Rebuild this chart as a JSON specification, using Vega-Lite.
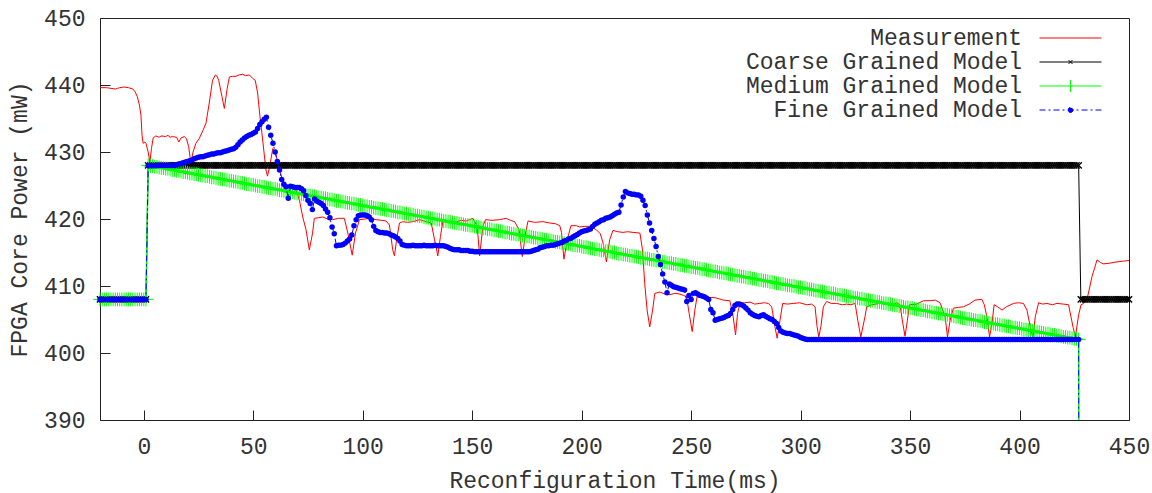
{
"$schema":"https://vega.github.io/schema/vega-lite/v6.json",
"width":1029,"height":402,
"autosize":{"type":"none"},
"padding":{"left":100,"top":18,"right":23,"bottom":73},
"background":"white",
"config":{
 "view":{"stroke":"#222","strokeWidth":1},
 "axis":{"labelFont":"Liberation Mono","labelFontSize":23,"labelColor":"#333","titleFont":"Liberation Mono","titleFontSize":23,"titleColor":"#333","titleFontWeight":"normal","tickColor":"#222","tickWidth":1,"domain":false,"grid":false,"tickSize":-10,"labelFlush":false}
},
"layer":[
{
 "data":{"values":"x,y\n-20,439.6\n-17,439.6\n-15,439.5\n-13,439.4\n-12,439.5\n-11,439.6\n-9,439.7\n-7,439.6\n-5,439.4\n-4,439.0\n-3,438.3\n-2,437.0\n-1.3,435.5\n-0.8,432.5\n-0.3,431.3\n0.5,431.5\n1,431.3\n2,430.0\n2.8,428.4\n3.5,430.5\n4.3,432.1\n5.5,432.4\n7,432.2\n8,432.4\n10,432.3\n11,432.5\n12,432.2\n13,432.3\n15,432.2\n16,431.5\n17,432.1\n18.5,432.3\n19.5,432.0\n20.5,430.8\n21.5,428.3\n22.5,430.0\n23.8,431.3\n25.3,432.0\n27,433.2\n28.4,434.3\n29.9,437.3\n31.4,440.7\n32.7,441.5\n33.5,441.3\n34.2,440.7\n35.7,438.3\n36.8,436.5\n38,439.3\n39.1,441.2\n40.5,441.3\n42.1,441.3\n43.5,441.5\n45.1,441.6\n46.5,441.4\n48.2,441.5\n49.7,441.0\n50.9,440.7\n52,438.8\n53,435.5\n54.3,431.8\n55.8,427.3\n56.5,426.4\n57.5,427.8\n58.9,430.5\n60.1,430.0\n61.6,427.8\n63.2,426.0\n65,424.9\n67,424.6\n69.6,424.3\n71.1,422.8\n72.6,420.3\n74.1,418.4\n75.6,415.4\n77.1,417.9\n77.9,420.1\n80,420.2\n81.7,420.3\n84,420.0\n86.3,419.9\n89,420.1\n91.6,420.1\n93.2,417.9\n95.2,414.6\n96.7,417.9\n98.5,419.9\n101,420.0\n103.1,420.1\n106.1,419.9\n108.5,419.8\n110.7,419.7\n112.2,419.1\n113.7,415.4\n114.5,414.5\n115.6,417.2\n116.8,419.4\n118.3,419.6\n120.5,419.5\n122.9,419.6\n125.9,419.9\n129,419.6\n131.3,419.4\n132.8,416.9\n134.3,414.5\n135.5,417.4\n136.6,419.6\n139.5,419.5\n142.7,419.6\n145,419.8\n147.3,419.7\n150.3,420.1\n152.3,418.9\n153.4,414.5\n154.9,418.9\n156.1,419.9\n159,419.8\n162.5,419.9\n165.6,420.1\n167.5,419.8\n169.4,419.6\n171.4,418.4\n172.9,414.4\n174.4,417.9\n175.5,419.7\n178.5,419.5\n182.3,419.6\n185.4,419.4\n188,419.3\n190,419.0\n190.8,418.0\n191.9,414.0\n193.5,417.0\n195.1,419.0\n197.6,419.0\n199.1,418.8\n201.5,418.9\n203.7,418.9\n206.7,418.4\n208.5,417.8\n209.8,416.4\n211.3,413.6\n212.8,416.9\n214.3,418.3\n216.5,418.1\n218.9,418.0\n221,418.1\n223.5,418.0\n226.6,417.9\n227.8,415.4\n228.8,410.4\n229.9,406.4\n231.1,403.9\n232.4,406.4\n233.4,408.9\n235.7,409.1\n238,408.8\n240.3,408.7\n242.5,408.9\n244.8,408.8\n246.5,408.6\n247.9,408.4\n249.1,405.9\n250.5,403.2\n251.7,406.4\n252.7,408.4\n255,408.3\n257.1,408.2\n259.5,408.3\n261.6,408.2\n264.6,407.9\n267.7,407.8\n269.2,405.4\n270.3,402.7\n271.2,405.9\n272.3,407.4\n274.5,407.5\n276.9,407.6\n279,407.3\n281.4,407.4\n283.5,407.5\n285.2,407.4\n286.8,406.9\n288.3,403.9\n289.3,402.2\n290.6,404.9\n291.8,407.4\n294,407.3\n296.7,407.4\n299.5,407.5\n302.8,407.2\n305,407.3\n306.6,406.9\n307.5,404.0\n308.3,402.4\n309.3,404.0\n310.4,406.9\n311.9,407.7\n314,407.4\n316.5,407.4\n319,407.2\n321.1,407.3\n323,407.2\n324.9,407.4\n326.1,404.9\n327.5,402.4\n329.4,405.4\n330.2,406.9\n332.5,407.2\n336,407.4\n339.4,407.3\n341.5,407.1\n343.9,407.5\n345.4,407.2\n346.7,404.4\n347.7,402.5\n348.8,404.9\n349.7,407.2\n353.1,407.3\n356.1,407.8\n359.2,407.8\n361.5,407.9\n363.7,407.5\n366,405.4\n367.1,402.4\n368.3,404.9\n369.8,406.7\n372,406.8\n374.4,406.9\n377,407.3\n379.7,407.9\n382.8,408.0\n383.9,407.2\n385.1,405.4\n386.3,402.4\n387.4,404.4\n388.4,407.2\n390,406.9\n392,406.4\n394,406.9\n397.3,407.4\n399.5,407.5\n401.8,407.4\n403.4,406.4\n404.9,403.9\n406.1,402.3\n407.2,405.4\n408.7,407.5\n410.5,407.3\n412.5,407.4\n415,407.2\n417.1,407.4\n420,407.3\n422.4,407.2\n423.5,405.4\n424.5,403.8\n425.5,402.4\n427,405.7\n428.1,407.2\n429.3,407.4\n431.1,408.4\n433.1,411.4\n435.4,413.9\n437,413.5\n438.4,413.3\n441,413.4\n444.5,413.6\n447,413.7\n450,413.8","format":{"type":"csv","parse":{"x":"number","y":"number"}}},
 "mark":{"type":"line","strokeWidth":1},
 "encoding":{
  "x":{"field":"x","type":"quantitative","scale":{"domain":[-20,450],"nice":false,"zero":false},"axis":{"orient":"bottom","values":[0,50,100,150,200,250,300,350,400,450],"format":"d","labelPadding":25,"title":"Reconfiguration Time(ms)","titlePadding":11}},
  "y":{"field":"y","type":"quantitative","scale":{"domain":[390,450],"nice":false,"zero":false},"axis":{"orient":"left","values":[390,400,410,420,430,440,450],"format":"d","labelPadding":25,"title":"FPGA Core Power (mW)","titlePadding":12}},
  "color":{"datum":"Measurement","type":"nominal","scale":{"domain":["Measurement","Coarse Grained Model","Medium Grained Model","Fine Grained Model"],"range":["#ff0000","#000000","#00ff00","#0000ff"]},
   "legend":{"orient":"none","legendX":959,"legendY":8.5,"title":null,"padding":0,"labelFont":"Liberation Mono","labelFontSize":23,"labelColor":"#333","labelAlign":"right","labelOffset":-60,"labelLimit":500,"rowPadding":-0.8,"symbolSize":100,"symbolStrokeWidth":1,
    "encode":{"symbols":{"update":{
     "shape":{"signal":"datum.value === 'Measurement' ? 'M-6.2,0H6.2' : datum.value === 'Coarse Grained Model' ? 'M-6.2,0H6.2M-0.4,-0.4L0.4,0.4M-0.4,0.4L0.4,-0.4' : datum.value === 'Medium Grained Model' ? 'M-6.2,0H6.2M0,-1.2V1.2' : 'M-6.2,0H6.2M0.5,0A0.5,0.5,0,1,1,-0.5,0A0.5,0.5,0,1,1,0.5,0'"},
     "strokeDash":{"signal":"datum.value === 'Fine Grained Model' ? [6,3,2,3] : []"},
     "fill":{"signal":"datum.value === 'Fine Grained Model' ? '#0000ff' : 'transparent'"},
     "stroke":{"scale":"color","field":"value"},
     "strokeWidth":{"value":1},
     "opacity":{"value":1}
    }}}}}
 }
},
{
 "data":{"values":"x,y\n-20,408\n-19,408\n-18,408\n-17,408\n-16,408\n-15,408\n-14,408\n-13,408\n-12,408\n-11,408\n-10,408\n-9,408\n-8,408\n-7,408\n-6,408\n-5,408\n-4,408\n-3,408\n-2,408\n-1,408\n0,408\n1,408\n2,428\n3,428\n4,428\n5,428\n6,428\n7,428\n8,428\n9,428\n10,428\n11,428\n12,428\n13,428\n14,428\n15,428\n16,428\n17,428\n18,428\n19,428\n20,428\n21,428\n22,428\n23,428\n24,428\n25,428\n26,428\n27,428\n28,428\n29,428\n30,428\n31,428\n32,428\n33,428\n34,428\n35,428\n36,428\n37,428\n38,428\n39,428\n40,428\n41,428\n42,428\n43,428\n44,428\n45,428\n46,428\n47,428\n48,428\n49,428\n50,428\n51,428\n52,428\n53,428\n54,428\n55,428\n56,428\n57,428\n58,428\n59,428\n60,428\n61,428\n62,428\n63,428\n64,428\n65,428\n66,428\n67,428\n68,428\n69,428\n70,428\n71,428\n72,428\n73,428\n74,428\n75,428\n76,428\n77,428\n78,428\n79,428\n80,428\n81,428\n82,428\n83,428\n84,428\n85,428\n86,428\n87,428\n88,428\n89,428\n90,428\n91,428\n92,428\n93,428\n94,428\n95,428\n96,428\n97,428\n98,428\n99,428\n100,428\n101,428\n102,428\n103,428\n104,428\n105,428\n106,428\n107,428\n108,428\n109,428\n110,428\n111,428\n112,428\n113,428\n114,428\n115,428\n116,428\n117,428\n118,428\n119,428\n120,428\n121,428\n122,428\n123,428\n124,428\n125,428\n126,428\n127,428\n128,428\n129,428\n130,428\n131,428\n132,428\n133,428\n134,428\n135,428\n136,428\n137,428\n138,428\n139,428\n140,428\n141,428\n142,428\n143,428\n144,428\n145,428\n146,428\n147,428\n148,428\n149,428\n150,428\n151,428\n152,428\n153,428\n154,428\n155,428\n156,428\n157,428\n158,428\n159,428\n160,428\n161,428\n162,428\n163,428\n164,428\n165,428\n166,428\n167,428\n168,428\n169,428\n170,428\n171,428\n172,428\n173,428\n174,428\n175,428\n176,428\n177,428\n178,428\n179,428\n180,428\n181,428\n182,428\n183,428\n184,428\n185,428\n186,428\n187,428\n188,428\n189,428\n190,428\n191,428\n192,428\n193,428\n194,428\n195,428\n196,428\n197,428\n198,428\n199,428\n200,428\n201,428\n202,428\n203,428\n204,428\n205,428\n206,428\n207,428\n208,428\n209,428\n210,428\n211,428\n212,428\n213,428\n214,428\n215,428\n216,428\n217,428\n218,428\n219,428\n220,428\n221,428\n222,428\n223,428\n224,428\n225,428\n226,428\n227,428\n228,428\n229,428\n230,428\n231,428\n232,428\n233,428\n234,428\n235,428\n236,428\n237,428\n238,428\n239,428\n240,428\n241,428\n242,428\n243,428\n244,428\n245,428\n246,428\n247,428\n248,428\n249,428\n250,428\n251,428\n252,428\n253,428\n254,428\n255,428\n256,428\n257,428\n258,428\n259,428\n260,428\n261,428\n262,428\n263,428\n264,428\n265,428\n266,428\n267,428\n268,428\n269,428\n270,428\n271,428\n272,428\n273,428\n274,428\n275,428\n276,428\n277,428\n278,428\n279,428\n280,428\n281,428\n282,428\n283,428\n284,428\n285,428\n286,428\n287,428\n288,428\n289,428\n290,428\n291,428\n292,428\n293,428\n294,428\n295,428\n296,428\n297,428\n298,428\n299,428\n300,428\n301,428\n302,428\n303,428\n304,428\n305,428\n306,428\n307,428\n308,428\n309,428\n310,428\n311,428\n312,428\n313,428\n314,428\n315,428\n316,428\n317,428\n318,428\n319,428\n320,428\n321,428\n322,428\n323,428\n324,428\n325,428\n326,428\n327,428\n328,428\n329,428\n330,428\n331,428\n332,428\n333,428\n334,428\n335,428\n336,428\n337,428\n338,428\n339,428\n340,428\n341,428\n342,428\n343,428\n344,428\n345,428\n346,428\n347,428\n348,428\n349,428\n350,428\n351,428\n352,428\n353,428\n354,428\n355,428\n356,428\n357,428\n358,428\n359,428\n360,428\n361,428\n362,428\n363,428\n364,428\n365,428\n366,428\n367,428\n368,428\n369,428\n370,428\n371,428\n372,428\n373,428\n374,428\n375,428\n376,428\n377,428\n378,428\n379,428\n380,428\n381,428\n382,428\n383,428\n384,428\n385,428\n386,428\n387,428\n388,428\n389,428\n390,428\n391,428\n392,428\n393,428\n394,428\n395,428\n396,428\n397,428\n398,428\n399,428\n400,428\n401,428\n402,428\n403,428\n404,428\n405,428\n406,428\n407,428\n408,428\n409,428\n410,428\n411,428\n412,428\n413,428\n414,428\n415,428\n416,428\n417,428\n418,428\n419,428\n420,428\n421,428\n422,428\n423,428\n424,428\n425,428\n426,428\n427,428\n428,408\n429,408\n430,408\n431,408\n432,408\n433,408\n434,408\n435,408\n436,408\n437,408\n438,408\n439,408\n440,408\n441,408\n442,408\n443,408\n444,408\n445,408\n446,408\n447,408\n448,408\n449,408\n450,408","format":{"type":"csv","parse":{"x":"number","y":"number"}}},
 "layer":[
  {"mark":{"type":"line","strokeWidth":1},
   "encoding":{
    "x":{"field":"x","type":"quantitative","axis":{"orient":"top","values":[0,50,100,150,200,250,300,350,400,450],"labels":false,"title":null}},
    "y":{"field":"y","type":"quantitative","axis":{"orient":"right","values":[390,400,410,420,430,440,450],"labels":false,"title":null}},
    "color":{"datum":"Coarse Grained Model","type":"nominal"}}},
  {"mark":{"type":"point","shape":"M-1,-1L1,1M-1,1L1,-1","size":40,"filled":false,"strokeWidth":1.3,"opacity":1},
   "encoding":{
    "x":{"field":"x","type":"quantitative","axis":null},
    "y":{"field":"y","type":"quantitative","axis":null},
    "color":{"datum":"Coarse Grained Model","type":"nominal"}}}
 ]
},
{
 "data":{"values":"x,y\n-20,408\n-19,408\n-18,408\n-17,408\n-16,408\n-15,408\n-14,408\n-13,408\n-12,408\n-11,408\n-10,408\n-9,408\n-8,408\n-7,408\n-6,408\n-5,408\n-4,408\n-3,408\n-2,408\n-1,408\n0,408\n1,408\n2,428.0\n3,427.9\n4,427.9\n5,427.8\n6,427.8\n7,427.7\n8,427.6\n9,427.6\n10,427.5\n11,427.5\n12,427.4\n13,427.3\n14,427.3\n15,427.2\n16,427.2\n17,427.1\n18,427.0\n19,427.0\n20,426.9\n21,426.8\n22,426.8\n23,426.7\n24,426.7\n25,426.6\n26,426.5\n27,426.5\n28,426.4\n29,426.4\n30,426.3\n31,426.2\n32,426.2\n33,426.1\n34,426.0\n35,426.0\n36,425.9\n37,425.9\n38,425.8\n39,425.7\n40,425.7\n41,425.6\n42,425.6\n43,425.5\n44,425.4\n45,425.4\n46,425.3\n47,425.2\n48,425.2\n49,425.1\n50,425.1\n51,425.0\n52,424.9\n53,424.9\n54,424.8\n55,424.8\n56,424.7\n57,424.6\n58,424.6\n59,424.5\n60,424.5\n61,424.4\n62,424.3\n63,424.3\n64,424.2\n65,424.2\n66,424.1\n67,424.0\n68,424.0\n69,423.9\n70,423.8\n71,423.8\n72,423.7\n73,423.7\n74,423.6\n75,423.5\n76,423.5\n77,423.4\n78,423.4\n79,423.3\n80,423.2\n81,423.2\n82,423.1\n83,423.1\n84,423.0\n85,422.9\n86,422.9\n87,422.8\n88,422.7\n89,422.7\n90,422.6\n91,422.6\n92,422.5\n93,422.4\n94,422.4\n95,422.3\n96,422.3\n97,422.2\n98,422.1\n99,422.1\n100,422.0\n101,421.9\n102,421.9\n103,421.8\n104,421.8\n105,421.7\n106,421.6\n107,421.6\n108,421.5\n109,421.5\n110,421.4\n111,421.3\n112,421.3\n113,421.2\n114,421.2\n115,421.1\n116,421.0\n117,421.0\n118,420.9\n119,420.8\n120,420.8\n121,420.7\n122,420.7\n123,420.6\n124,420.5\n125,420.5\n126,420.4\n127,420.4\n128,420.3\n129,420.2\n130,420.2\n131,420.1\n132,420.1\n133,420.0\n134,419.9\n135,419.9\n136,419.8\n137,419.7\n138,419.7\n139,419.6\n140,419.6\n141,419.5\n142,419.4\n143,419.4\n144,419.3\n145,419.3\n146,419.2\n147,419.1\n148,419.1\n149,419.0\n150,419.0\n151,418.9\n152,418.8\n153,418.8\n154,418.7\n155,418.6\n156,418.6\n157,418.5\n158,418.5\n159,418.4\n160,418.3\n161,418.3\n162,418.2\n163,418.2\n164,418.1\n165,418.0\n166,418.0\n167,417.9\n168,417.8\n169,417.8\n170,417.7\n171,417.7\n172,417.6\n173,417.5\n174,417.5\n175,417.4\n176,417.4\n177,417.3\n178,417.2\n179,417.2\n180,417.1\n181,417.1\n182,417.0\n183,416.9\n184,416.9\n185,416.8\n186,416.8\n187,416.7\n188,416.6\n189,416.6\n190,416.5\n191,416.4\n192,416.4\n193,416.3\n194,416.3\n195,416.2\n196,416.1\n197,416.1\n198,416.0\n199,416.0\n200,415.9\n201,415.8\n202,415.8\n203,415.7\n204,415.6\n205,415.6\n206,415.5\n207,415.5\n208,415.4\n209,415.3\n210,415.3\n211,415.2\n212,415.2\n213,415.1\n214,415.0\n215,415.0\n216,414.9\n217,414.8\n218,414.8\n219,414.7\n220,414.7\n221,414.6\n222,414.5\n223,414.5\n224,414.4\n225,414.4\n226,414.3\n227,414.2\n228,414.2\n229,414.1\n230,414.1\n231,414.0\n232,413.9\n233,413.9\n234,413.8\n235,413.8\n236,413.7\n237,413.6\n238,413.6\n239,413.5\n240,413.4\n241,413.4\n242,413.3\n243,413.3\n244,413.2\n245,413.1\n246,413.1\n247,413.0\n248,413.0\n249,412.9\n250,412.8\n251,412.8\n252,412.7\n253,412.7\n254,412.6\n255,412.5\n256,412.5\n257,412.4\n258,412.3\n259,412.3\n260,412.2\n261,412.2\n262,412.1\n263,412.0\n264,412.0\n265,411.9\n266,411.9\n267,411.8\n268,411.7\n269,411.7\n270,411.6\n271,411.5\n272,411.5\n273,411.4\n274,411.4\n275,411.3\n276,411.2\n277,411.2\n278,411.1\n279,411.1\n280,411.0\n281,410.9\n282,410.9\n283,410.8\n284,410.8\n285,410.7\n286,410.6\n287,410.6\n288,410.5\n289,410.4\n290,410.4\n291,410.3\n292,410.3\n293,410.2\n294,410.1\n295,410.1\n296,410.0\n297,410.0\n298,409.9\n299,409.8\n300,409.8\n301,409.7\n302,409.7\n303,409.6\n304,409.5\n305,409.5\n306,409.4\n307,409.3\n308,409.3\n309,409.2\n310,409.2\n311,409.1\n312,409.0\n313,409.0\n314,408.9\n315,408.9\n316,408.8\n317,408.7\n318,408.7\n319,408.6\n320,408.6\n321,408.5\n322,408.4\n323,408.4\n324,408.3\n325,408.2\n326,408.2\n327,408.1\n328,408.1\n329,408.0\n330,407.9\n331,407.9\n332,407.8\n333,407.8\n334,407.7\n335,407.6\n336,407.6\n337,407.5\n338,407.4\n339,407.4\n340,407.3\n341,407.3\n342,407.2\n343,407.1\n344,407.1\n345,407.0\n346,407.0\n347,406.9\n348,406.8\n349,406.8\n350,406.7\n351,406.7\n352,406.6\n353,406.5\n354,406.5\n355,406.4\n356,406.4\n357,406.3\n358,406.2\n359,406.2\n360,406.1\n361,406.0\n362,406.0\n363,405.9\n364,405.9\n365,405.8\n366,405.7\n367,405.7\n368,405.6\n369,405.6\n370,405.5\n371,405.4\n372,405.4\n373,405.3\n374,405.2\n375,405.2\n376,405.1\n377,405.1\n378,405.0\n379,404.9\n380,404.9\n381,404.8\n382,404.8\n383,404.7\n384,404.6\n385,404.6\n386,404.5\n387,404.4\n388,404.4\n389,404.3\n390,404.3\n391,404.2\n392,404.1\n393,404.1\n394,404.0\n395,404.0\n396,403.9\n397,403.8\n398,403.8\n399,403.7\n400,403.7\n401,403.6\n402,403.5\n403,403.5\n404,403.4\n405,403.4\n406,403.3\n407,403.2\n408,403.2\n409,403.1\n410,403.0\n411,403.0\n412,402.9\n413,402.9\n414,402.8\n415,402.7\n416,402.7\n417,402.6\n418,402.6\n419,402.5\n420,402.4\n421,402.4\n422,402.3\n423,402.3\n424,402.2\n425,402.1\n426,402.1\n427,402.0\n427.4,300","format":{"type":"csv","parse":{"x":"number","y":"number"}}},
 "layer":[
  {"mark":{"type":"line","strokeWidth":1.5,"clip":true},
   "encoding":{
    "x":{"field":"x","type":"quantitative","axis":null},
    "y":{"field":"y","type":"quantitative","axis":null},
    "color":{"datum":"Medium Grained Model","type":"nominal"}}},
  {"transform":[{"filter":"datum.y >= 390"}],
   "mark":{"type":"point","shape":"M-1,0H1M0,-1V1","size":190,"filled":false,"strokeWidth":1,"opacity":1},
   "encoding":{
    "x":{"field":"x","type":"quantitative","axis":null},
    "y":{"field":"y","type":"quantitative","axis":null},
    "color":{"datum":"Medium Grained Model","type":"nominal"}}}
 ]
},
{
 "data":{"values":"x,y\n-20,408\n-19,408\n-18,408\n-17,408\n-16,408\n-15,408\n-14,408\n-13,408\n-12,408\n-11,408\n-10,408\n-9,408\n-8,408\n-7,408\n-6,408\n-5,408\n-4,408\n-3,408\n-2,408\n-1,408\n0,408\n1,408\n2,428\n3,428\n4,428\n5,428\n6,428\n7,428\n8,428\n9,428\n10,428\n11,428\n12,428\n13,428\n14,428.0\n15,428.1\n16,428.2\n17,428.3\n18,428.4\n19,428.5\n20,428.6\n21,428.7\n22,428.8\n23,429.0\n24,429.1\n25,429.2\n26,429.3\n27,429.3\n28,429.4\n29,429.5\n30,429.6\n31,429.7\n32,429.7\n33,429.8\n34,429.9\n35,429.9\n36,430.0\n37,430.1\n38,430.2\n39,430.3\n40,430.4\n41,430.5\n42,430.7\n43,431.1\n44,431.5\n45,431.8\n46,432.1\n47,432.3\n48,432.5\n49,432.6\n50,432.8\n51,433.0\n52,433.5\n53,434.1\n54,434.5\n55,434.9\n56,435.2\n57,433.7\n58,432.5\n59,431.3\n60,430.0\n61,428.6\n62,427.3\n63,425.9\n64,425.2\n65,424.8\n66,423.1\n67,424.9\n68,424.8\n69,424.7\n70,424.7\n71,424.7\n72,424.5\n73,424.2\n74,423.5\n75,422.8\n76,422.3\n77,421.4\n78,423.0\n79,422.7\n80,422.5\n81,422.3\n82,422.0\n83,421.5\n84,421.0\n85,420.2\n86,418.8\n87,417.8\n88,416.0\n89,416.1\n90,416.1\n91,416.2\n92,416.4\n93,416.7\n94,417.0\n95,417.6\n96,419.0\n97,419.9\n98,420.5\n99,420.6\n100,420.6\n101,420.6\n102,420.5\n103,420.3\n104,419.9\n105,418.9\n106,418.3\n107,418.1\n108,418.0\n109,418.0\n110,417.9\n111,417.9\n112,417.8\n113,417.6\n114,417.5\n115,417.3\n116,417.1\n117,416.7\n118,416.2\n119,416.1\n120,416.0\n121,416.0\n122,416.0\n123,416.1\n124,416.0\n125,416.0\n126,416.0\n127,416.0\n128,416.1\n129,416.0\n130,416.0\n131,416.0\n132,416.0\n133,416.1\n134,416.0\n135,416.0\n136,416.0\n137,416.0\n138,415.9\n139,415.8\n140,415.6\n141,415.5\n142,415.4\n143,415.4\n144,415.4\n145,415.3\n146,415.3\n147,415.3\n148,415.3\n149,415.2\n150,415.2\n151,415.1\n152,415.1\n153,415.1\n154,415.1\n155,415.1\n156,415.1\n157,415.1\n158,415.1\n159,415.1\n160,415.1\n161,415.1\n162,415.1\n163,415.1\n164,415.1\n165,415.1\n166,415.1\n167,415.1\n168,415.1\n169,415.1\n170,415.1\n171,415.1\n172,415.1\n173,415.1\n174,415.1\n175,415.1\n176,415.1\n177,415.2\n178,415.3\n179,415.4\n180,415.5\n181,415.7\n182,415.8\n183,415.9\n184,416.0\n185,416.0\n186,416.1\n187,416.1\n188,416.2\n189,416.3\n190,416.4\n191,416.5\n192,416.7\n193,416.8\n194,417.0\n195,417.1\n196,417.3\n197,417.5\n198,417.7\n199,417.9\n200,418.1\n201,418.2\n202,418.3\n203,418.4\n204,418.5\n205,418.9\n206,419.2\n207,419.4\n208,419.6\n209,419.8\n210,419.9\n211,420.1\n212,420.2\n213,420.3\n214,420.5\n215,420.7\n216,420.9\n217,421.0\n218,422.1\n219,423.3\n220,424.1\n221,423.9\n222,423.8\n223,423.7\n224,423.7\n225,423.6\n226,423.6\n227,423.4\n228,422.8\n229,422.0\n230,420.6\n231,419.4\n232,418.3\n233,417.1\n234,415.9\n235,414.4\n236,413.2\n237,411.8\n238,410.6\n239,409.0\n240,410.3\n241,410.1\n242,409.9\n243,409.8\n244,409.7\n245,409.6\n246,409.5\n247,409.4\n248,407.7\n249,408.6\n250,408.0\n251,408.9\n252,409.0\n253,408.8\n254,408.6\n255,408.5\n256,408.4\n257,408.2\n258,408.0\n259,406.5\n260,406.0\n261,404.9\n262,405.0\n263,405.1\n264,405.2\n265,405.3\n266,405.5\n267,405.6\n268,405.9\n269,406.5\n270,407.1\n271,407.3\n272,407.3\n273,407.2\n274,407.0\n275,406.7\n276,406.4\n277,406.0\n278,405.8\n279,405.6\n280,405.5\n281,405.4\n282,405.6\n283,405.7\n284,405.5\n285,405.3\n286,405.1\n287,405.0\n288,404.7\n289,404.4\n290,403.8\n291,403.3\n292,403.1\n293,403.0\n294,402.9\n295,402.9\n296,402.8\n297,402.7\n298,402.6\n299,402.5\n300,402.3\n301,402.2\n302,402.1\n303,402\n304,402\n305,402\n306,402\n307,402\n308,402\n309,402\n310,402\n311,402\n312,402\n313,402\n314,402\n315,402\n316,402\n317,402\n318,402\n319,402\n320,402\n321,402\n322,402\n323,402\n324,402\n325,402\n326,402\n327,402\n328,402\n329,402\n330,402\n331,402\n332,402\n333,402\n334,402\n335,402\n336,402\n337,402\n338,402\n339,402\n340,402\n341,402\n342,402\n343,402\n344,402\n345,402\n346,402\n347,402\n348,402\n349,402\n350,402\n351,402\n352,402\n353,402\n354,402\n355,402\n356,402\n357,402\n358,402\n359,402\n360,402\n361,402\n362,402\n363,402\n364,402\n365,402\n366,402\n367,402\n368,402\n369,402\n370,402\n371,402\n372,402\n373,402\n374,402\n375,402\n376,402\n377,402\n378,402\n379,402\n380,402\n381,402\n382,402\n383,402\n384,402\n385,402\n386,402\n387,402\n388,402\n389,402\n390,402\n391,402\n392,402\n393,402\n394,402\n395,402\n396,402\n397,402\n398,402\n399,402\n400,402\n401,402\n402,402\n403,402\n404,402\n405,402\n406,402\n407,402\n408,402\n409,402\n410,402\n411,402\n412,402\n413,402\n414,402\n415,402\n416,402\n417,402\n418,402\n419,402\n420,402\n421,402\n422,402\n423,402\n424,402\n425,402\n426,402\n427,402\n427.4,300","format":{"type":"csv","parse":{"x":"number","y":"number"}}},
 "layer":[
  {"mark":{"type":"line","strokeWidth":1,"clip":true,"strokeDash":[6,3,2,3]},
   "encoding":{
    "x":{"field":"x","type":"quantitative","axis":null},
    "y":{"field":"y","type":"quantitative","axis":null},
    "color":{"datum":"Fine Grained Model","type":"nominal"}}},
  {"transform":[{"filter":"datum.y >= 390"}],
   "mark":{"type":"point","shape":"circle","size":30,"filled":true,"strokeWidth":0,"opacity":1},
   "encoding":{
    "x":{"field":"x","type":"quantitative","axis":null},
    "y":{"field":"y","type":"quantitative","axis":null},
    "color":{"datum":"Fine Grained Model","type":"nominal"}}}
 ]
}
]
}
